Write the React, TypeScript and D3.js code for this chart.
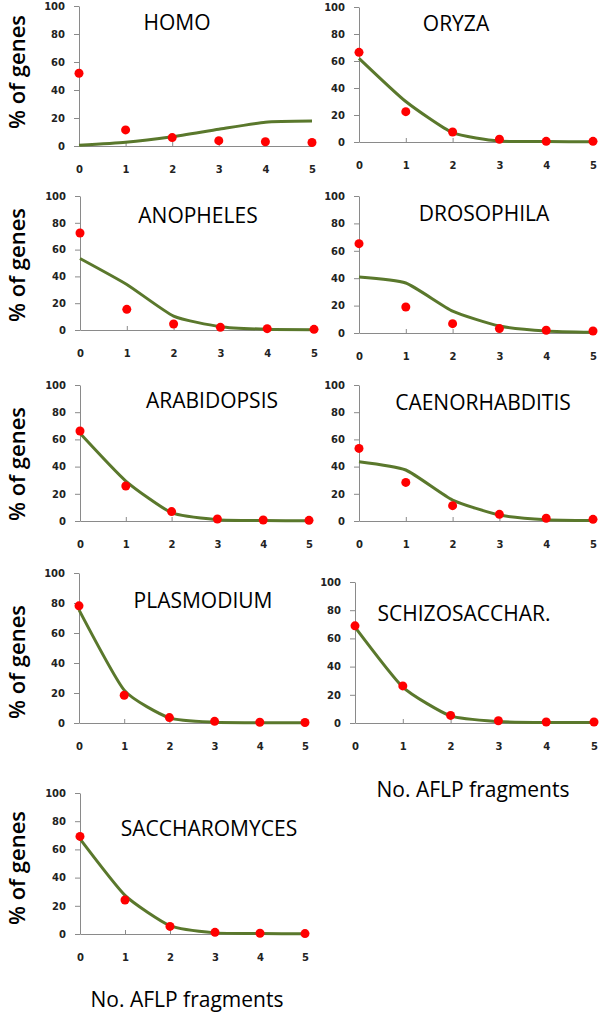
import React, { useEffect, useRef } from "react";
import * as d3 from "d3";

const fragments = [0, 1, 2, 3, 4, 5];
const yTicks = [0, 20, 40, 60, 80, 100];

// observed % of genes (red dots) and expected % (green line) by number of AFLP fragments
const homoObserved = [52, 11.5, 6, 3.8, 3, 2.5];
const homoExpected = [0.5, 2.6, 6.6, 12, 17, 17.8];
const oryzaObserved = [66.4, 22.5, 7.4, 2, 0.5, 0.5];
const oryzaExpected = [62, 30, 6.9, 0.7, 0.3, 0.2];
const anophelesObserved = [72.4, 15.4, 4.5, 2, 1, 0.5];
const anophelesExpected = [53.4, 34, 10.4, 2.5, 0.5, 0.2];
const drosophilaObserved = [65.2, 19, 6.8, 3.2, 2, 1.5];
const drosophilaExpected = [40.9, 36.5, 16, 5.1, 1.5, 0.5];
const arabidopsisObserved = [66.2, 25.7, 6.9, 1.5, 0.7, 0.5];
const arabidopsisExpected = [64.5, 29.4, 6.1, 1, 0.3, 0.2];
const caenorhabditisObserved = [53.4, 28.4, 11.3, 4.9, 2, 1.2];
const caenorhabditisExpected = [43.6, 37.5, 15.4, 4.4, 1, 0.3];
const plasmodiumObserved = [78.1, 18.5, 3.6, 1.1, 0.5, 0.3];
const plasmodiumExpected = [75.4, 21.9, 3.4, 0.5, 0.2, 0.1];
const schizoObserved = [68.9, 26.3, 5.4, 1.6, 0.7, 0.7];
const schizoExpected = [68, 25.5, 5, 1, 0.3, 0.3];
const saccharomycesObserved = [69.2, 24.1, 5.4, 1.2, 0.5, 0.3];
const saccharomycesExpected = [67.4, 27.4, 5.9, 0.8, 0.3, 0.2];

const species = [
  { name: "HOMO", observed: homoObserved, expected: homoExpected },
  { name: "ORYZA", observed: oryzaObserved, expected: oryzaExpected },
  { name: "ANOPHELES", observed: anophelesObserved, expected: anophelesExpected },
  { name: "DROSOPHILA", observed: drosophilaObserved, expected: drosophilaExpected },
  { name: "ARABIDOPSIS", observed: arabidopsisObserved, expected: arabidopsisExpected },
  { name: "CAENORHABDITIS", observed: caenorhabditisObserved, expected: caenorhabditisExpected },
  { name: "PLASMODIUM", observed: plasmodiumObserved, expected: plasmodiumExpected },
  { name: "SCHIZOSACCHAR.", observed: schizoObserved, expected: schizoExpected },
  { name: "SACCHAROMYCES", observed: saccharomycesObserved, expected: saccharomycesExpected },
];

// where each small chart sits on the page
const panels = [
  { left: 79, right: 312, top: 6, bottom: 146, tx: 177, ty: 22, ylab: 72 },
  { left: 359, right: 593, top: 7, bottom: 142, tx: 456, ty: 23 },
  { left: 80, right: 314, top: 196, bottom: 330, tx: 198, ty: 215, ylab: 265 },
  { left: 359, right: 593, top: 196, bottom: 333, tx: 484, ty: 213 },
  { left: 80, right: 309, top: 385, bottom: 521, tx: 212, ty: 400, ylab: 464 },
  { left: 359, right: 593, top: 385, bottom: 521, tx: 483, ty: 402 },
  { left: 79, right: 305, top: 573, bottom: 723, tx: 203, ty: 600, ylab: 662 },
  { left: 355, right: 594, top: 582, bottom: 723, tx: 464, ty: 613 },
  { left: 80, right: 305, top: 793, bottom: 934, tx: 209, ty: 828, ylab: 868 },
];

const xTitles = [
  { x: 473, y: 797 },
  { x: 187, y: 1007 },
];

const width = 600;
const height = 1014;
const lineColor = "#5a782c";
const dotColor = "#ff0000";
const axisColor = "#8a8a8a";

export default function App() {
  const svgRef = useRef(null);

  useEffect(() => {
    const svg = d3.select(svgRef.current);
    svg.selectAll("*").remove();

    species.forEach((s, i) => {
      const p = panels[i];
      const x = d3.scaleLinear().domain([0, 5]).range([p.left, p.right]);
      const y = d3.scaleLinear().domain([0, 100]).range([p.bottom, p.top]);
      const g = svg.append("g");

      const yAxis = g
        .append("g")
        .attr("transform", `translate(${p.left},0)`)
        .call(d3.axisLeft(y).tickValues(yTicks).tickSize(5).tickSizeOuter(0).tickPadding(9));

      const xAxis = g
        .append("g")
        .attr("transform", `translate(0,${p.bottom})`)
        .call(
          d3
            .axisBottom(x)
            .tickValues(fragments)
            .tickFormat(d3.format("d"))
            .tickSize(-4)
            .tickSizeOuter(0)
            .tickPadding(20)
        );

      [yAxis, xAxis].forEach((ax) => {
        ax.attr("font-family", "DejaVu Sans").attr("font-size", 10).attr("font-weight", "bold");
        ax.selectAll("path, line").attr("stroke", axisColor);
        ax.selectAll("text").attr("fill", "#222");
      });

      const line = d3
        .line<number>()
        .x((_, j) => x(fragments[j]))
        .y((d) => y(d))
        .curve(d3.curveCardinal.tension(0.45));

      g.append("path")
        .datum(s.expected)
        .attr("fill", "none")
        .attr("stroke", lineColor)
        .attr("stroke-width", 3)
        .attr("d", line);

      g.selectAll(".dot")
        .data(s.observed)
        .join("circle")
        .attr("cx", (_, j) => x(fragments[j]))
        .attr("cy", (d) => y(d))
        .attr("r", 4.5)
        .attr("fill", dotColor);

      g.append("text")
        .attr("x", p.tx)
        .attr("y", p.ty + 7.5)
        .attr("text-anchor", "middle")
        .attr("font-family", "Open Sans")
        .attr("font-size", 21)
        .attr("fill", "#000")
        .text(s.name);

      if (p.ylab) {
        g.append("text")
          .attr("transform", `translate(25,${p.ylab}) rotate(-90)`)
          .attr("text-anchor", "middle")
          .attr("font-family", "Open Sans")
          .attr("font-size", 22)
          .attr("font-weight", 600)
          .attr("fill", "#000")
          .text("% of genes");
      }
    });

    xTitles.forEach((t) => {
      svg
        .append("text")
        .attr("x", t.x)
        .attr("y", t.y)
        .attr("text-anchor", "middle")
        .attr("font-family", "Open Sans")
        .attr("font-size", 21)
        .attr("fill", "#000")
        .text("No. AFLP fragments");
    });
  }, []);

  return (
    <svg
      ref={svgRef}
      width={width}
      height={height}
      style={{ position: "absolute", left: 0, top: 0, background: "#fff" }}
    />
  );
}
